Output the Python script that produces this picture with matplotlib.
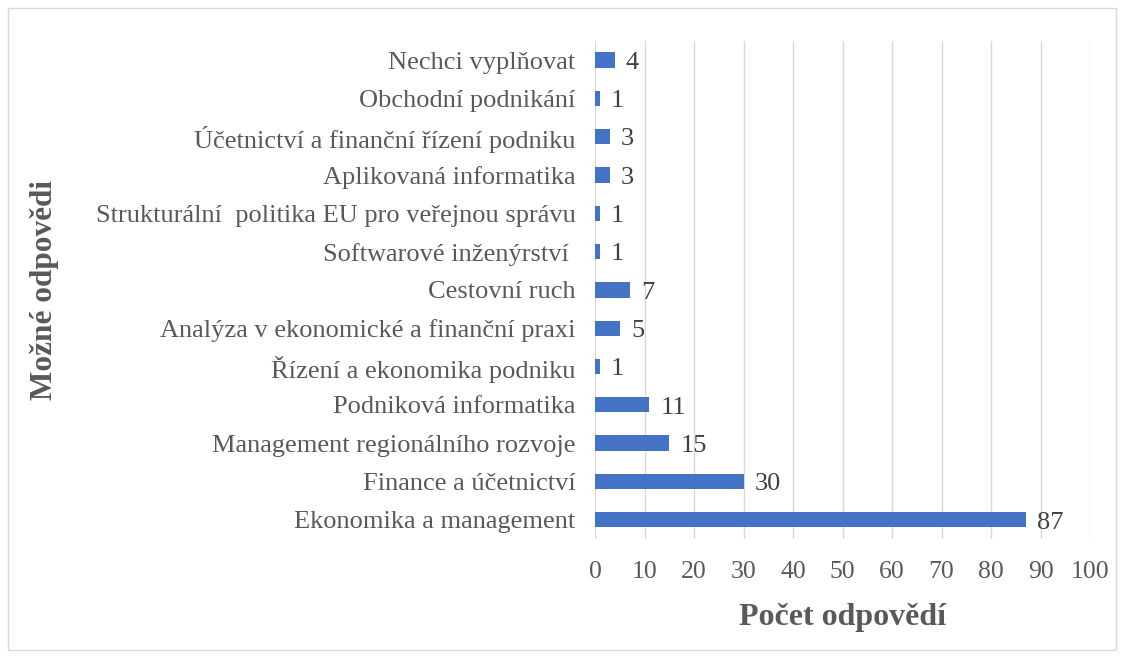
import matplotlib.pyplot as plt
from matplotlib.patches import Rectangle

categories = [
    "Ekonomika a management",
    "Finance a účetnictví",
    "Management regionálního rozvoje",
    "Podniková informatika",
    "Řízení a ekonomika podniku",
    "Analýza v ekonomické a finanční praxi",
    "Cestovní ruch",
    "Softwarové inženýrství ",
    "Strukturální  politika EU pro veřejnou správu",
    "Aplikovaná informatika",
    "Účetnictví a finanční řízení podniku",
    "Obchodní podnikání",
    "Nechci vyplňovat",
]
counts = [87, 30, 15, 11, 1, 5, 7, 1, 1, 3, 3, 1, 4]
x_ticks = list(range(0, 101, 10))

plt.rcParams["font.family"] = ["Liberation Serif", "DejaVu Serif"]

fig = plt.figure(figsize=(11.24, 6.58), dpi=100)
fig.patches.append(Rectangle((0.007, 0.012), 0.986, 0.976, transform=fig.transFigure,
                             fill=False, edgecolor="#D9D9D9", linewidth=1))
ax = fig.add_axes([0.5294, 0.181, 0.4404, 0.7568])

y = list(range(len(categories)))
ax.barh(y, counts, height=0.4, color="#4472C4", zorder=3)
for yi, v in zip(y, counts):
    ax.annotate(str(v), (v, yi), xytext=(8, -2), textcoords="offset points",
                va="center", ha="left", fontsize=19, color="#404040")

ax.set_xlim(0, 100)
ax.set_ylim(-0.5, len(categories) - 0.5)
ax.set_xticks(x_ticks)
ax.set_xticklabels([str(t) for t in x_ticks], fontsize=18.5, color="#595959")
ax.set_yticks(y)
ax.set_yticklabels(categories, fontsize=19, color="#595959")
ax.tick_params(axis="y", length=0, pad=14)
ax.tick_params(axis="x", length=0, pad=16)
ax.grid(axis="x", color="#D9D9D9", linewidth=1, zorder=0)
for s in ax.spines.values():
    s.set_visible(False)

ax.set_xlabel("Počet odpovědí", fontsize=23, fontweight="bold", color="#595959", labelpad=14)
fig.text(0.04, 0.56, "Možné odpovědi", rotation=90, fontsize=22.5, fontweight="bold",
         color="#595959", ha="center", va="center")

fig.savefig("out.png", dpi=100)
